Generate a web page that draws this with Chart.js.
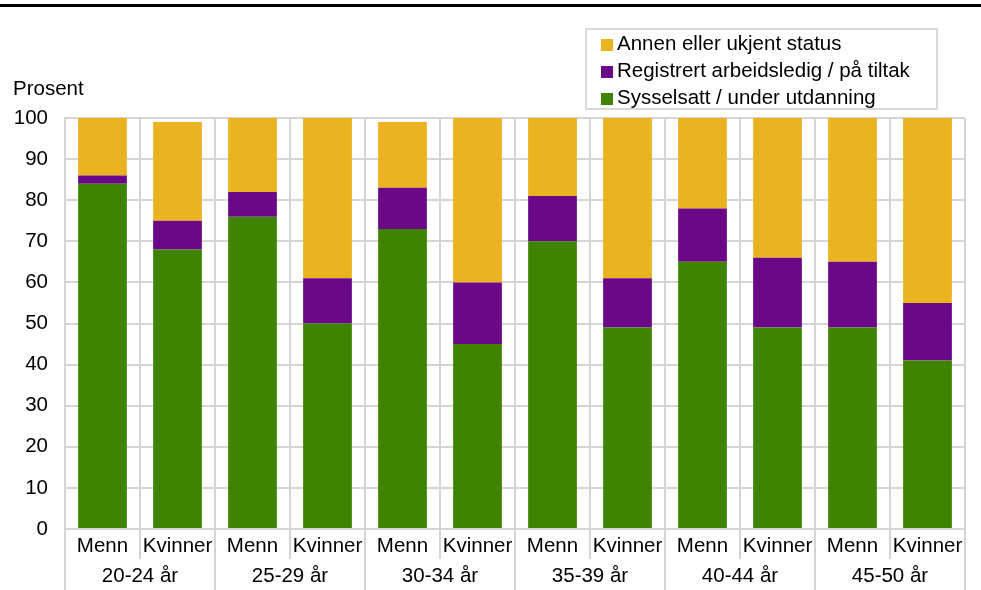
<!DOCTYPE html>
<html>
<head>
<meta charset="utf-8">
<script src="https://cdn.jsdelivr.net/npm/chart.js@4.4.0/dist/chart.umd.min.js"></script>
<style>
  body { margin: 0; background: #fff; font-family: "Liberation Sans", Arial, sans-serif; }
  #wrap { position: relative; width: 981px; height: 590px; }
  #topline { position: absolute; left: 0; top: 4px; width: 981px; height: 3px; background: #000; }
  #legend { position: absolute; left: 585px; top: 28px; width: 353px; height: 82px;
            border: 2px solid #d9d9d9; box-sizing: border-box; }
  .item { position: absolute; left: 14px; height: 24px; line-height: 24px; font-size: 20.5px; color: #000; white-space: nowrap; }
  .item span { display: inline-block; width: 12px; height: 12px; margin-right: 4px; vertical-align: -1px; }
</style>
</head>
<body>
<div id="wrap">
  <div id="topline"></div>
  <canvas id="myChart"></canvas>
  <div id="legend"></div>
</div>
<script>
// Kategorier
const kjonn = ['Menn', 'Kvinner', 'Menn', 'Kvinner', 'Menn', 'Kvinner', 'Menn', 'Kvinner', 'Menn', 'Kvinner', 'Menn', 'Kvinner'];
const aldersgrupper = ['20-24 år', '25-29 år', '30-34 år', '35-39 år', '40-44 år', '45-50 år'];

// Verdier (prosent)
const sysselsatt = [84, 68, 76, 50, 73, 45, 70, 49, 65, 49, 49, 41];
const registrert = [2, 7, 6, 11, 10, 15, 11, 12, 13, 17, 16, 14];
const annen = [14, 24, 18, 39, 16, 40, 19, 39, 22, 34, 35, 45];

const yTicks = [0, 10, 20, 30, 40, 50, 60, 70, 80, 90, 100];

const gridColor = '#d5d5d5';
const font = { family: '"Liberation Sans", Arial, sans-serif', size: 20.5 };

const datasets = [
    { label: 'Sysselsatt / under utdanning', data: sysselsatt, backgroundColor: '#3f8400' },
    { label: 'Registrert arbeidsledig / på tiltak', data: registrert, backgroundColor: '#6a0888' },
    { label: 'Annen eller ukjent status', data: annen, backgroundColor: '#ebb320' }
];

// "Prosent" over y-aksen
const prosentLabel = {
    id: 'prosentLabel',
    afterDraw(chart) {
        const c = chart.ctx;
        c.save();
        c.font = '20.5px "Liberation Sans", Arial, sans-serif';
        c.fillStyle = '#000';
        c.textBaseline = 'middle';
        c.fillText('Prosent', 13, 89);
        c.restore();
    }
};

const ctx = document.getElementById('myChart').getContext('2d');
const myChart = new Chart(ctx, {
    type: 'bar',
    data: {
        labels: kjonn,
        datasets: datasets.map(d => Object.assign({
            barPercentage: 0.65,
            categoryPercentage: 1,
            borderWidth: 0
        }, d))
    },
    options: {
        responsive: true,
        maintainAspectRatio: false,
        animation: false,
        layout: { padding: { top: 118, right: 16, left: 0, bottom: 0 } },
        plugins: {
            legend: { display: false },
            tooltip: { enabled: false }
        },
        scales: {
            x: {
                stacked: true,
                offset: true,
                grid: { offset: true, color: gridColor, lineWidth: 2, tickLength: 30, tickColor: gridColor },
                border: { color: gridColor, width: 2 },
                ticks: { color: '#000', font: font, padding: -25, maxRotation: 0, autoSkip: false },
                afterFit(scale) { scale.height = 30; }
            },
            x2: {
                type: 'category',
                position: 'bottom',
                labels: aldersgrupper,
                offset: true,
                grid: { offset: true, drawOnChartArea: false, color: gridColor, lineWidth: 2, tickLength: 31, tickColor: gridColor },
                border: { display: false },
                ticks: { color: '#000', font: font, padding: -26, maxRotation: 0, autoSkip: false },
                afterFit(scale) { scale.height = 31; }
            },
            y: {
                stacked: true,
                min: 0,
                max: 100,
                afterBuildTicks(scale) { scale.ticks = yTicks.map(v => ({ value: v })); },
                grid: { color: gridColor, lineWidth: 2, drawTicks: false },
                border: { color: gridColor, width: 2 },
                ticks: { color: '#000', font: font, padding: 17 },
                afterFit(scale) { scale.width = 65; }
            }
        }
    },
    plugins: [prosentLabel]
});

// Legende (omvendt rekkefølge)
const legend = document.getElementById('legend');
datasets.slice().reverse().forEach((d, i) => {
    const el = document.createElement('div');
    el.className = 'item';
    el.style.top = (1 + i * 27) + 'px';
    el.innerHTML = '<span style="background:' + d.backgroundColor + '"></span>' + d.label;
    legend.appendChild(el);
});
</script>
</body>
</html>
